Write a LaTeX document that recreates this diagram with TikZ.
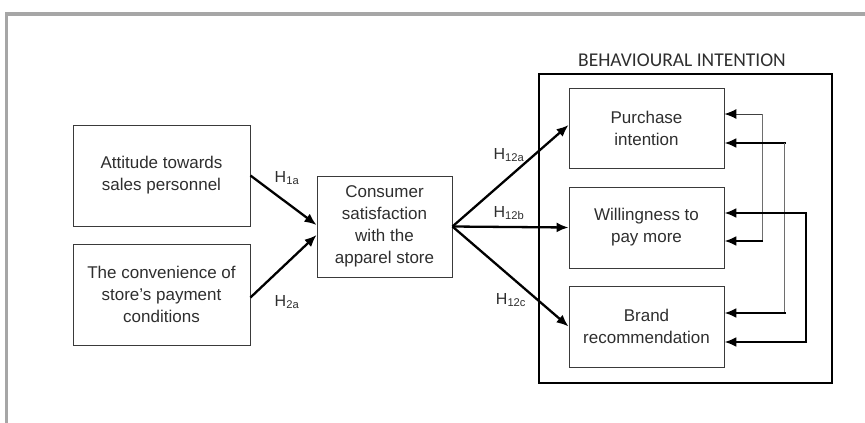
\documentclass[tikz,border=0pt]{standalone}
\usepackage{fontspec}
\setmainfont{Liberation Sans}
\newfontfamily\calib{Carlito}
\usetikzlibrary{arrows.meta,calc}
\definecolor{txt}{HTML}{2E2E2E}
\definecolor{boxln}{HTML}{3A3A3A}
\definecolor{frameln}{HTML}{A6A6A6}
\definecolor{thinln}{HTML}{6E6E6E}
\tikzset{
  concept/.style={draw=boxln, line width=0.9pt, inner sep=0pt, align=center,
    text=txt, font=\fontsize{17}{22}\selectfont},
  hlabel/.style={text=txt, font=\fontsize{16}{18}\selectfont, inner sep=0pt},
  tip/.style={-{Latex[length=12pt,width=10pt,black]}},
  boldln/.style={line width=2.3pt, black},
  fineln/.style={line width=1pt, thinln},
}
\begin{document}
\begin{tikzpicture}[x=1pt,y=-1pt]
\useasboundingbox (0,0) rectangle (865,423);
% frame
\draw[frameln, line width=3.5pt] (6.5,423) -- (6.5,14) -- (865,14);
% left concepts
\node[concept, minimum width=177pt, minimum height=101pt] (A) at (161.5,175.5) {Attitude towards\\sales personnel};
\node[concept, minimum width=177pt, minimum height=101pt] (B) at (161.5,294.5) {The convenience of\\store’s payment\\conditions};
\node[concept, minimum width=135pt, minimum height=101pt] (C) at (384.5,226.5) {Consumer\\satisfaction\\with the\\apparel store};
% behavioural intention
\node[draw=black, line width=1.4pt, minimum width=293pt, minimum height=309pt, inner sep=0pt] (BI) at (685.5,228.5) {};
\node[text=txt, font=\calib\fontsize{19.5}{22}\selectfont, inner sep=0pt] (BIl) at (682,60) {BEHAVIOURAL INTENTION};
\node[concept, minimum width=155pt, minimum height=80pt] (P) at (646.5,128) {Purchase\\intention};
\node[concept, minimum width=155pt, minimum height=81pt] (W) at (646.5,227.5) {Willingness to\\pay more};
\node[concept, minimum width=155pt, minimum height=81pt] (R) at (646.5,326.5) {Brand\\recommendation};
% hypotheses arrows
\draw[boldln, tip] (A.east) -- ([yshift=1.5pt]C.west);
\draw[boldln, tip] ([yshift=-3pt]B.east) -- ([yshift=-8.5pt]C.west);
\draw[boldln, tip] (C.east) -- ([yshift=3pt]P.west);
\draw[boldln, tip] (C.east) -- (W.west);
\draw[boldln, tip] (C.east) -- (R.west);
\node[hlabel] (h1) at (287,178) {H\textsubscript{1a}};
\node[hlabel] (h2) at (287,302) {H\textsubscript{2a}};
\node[hlabel] (h3) at (509,155) {H\textsubscript{12a}};
\node[hlabel] (h4) at (509,213) {H\textsubscript{12b}};
\node[hlabel] (h5) at (511,300) {H\textsubscript{12c}};
% feedback connectors
\coordinate (p1) at ([yshift=14pt]P.east);
\coordinate (p2) at ([yshift=-15pt]P.east);
\coordinate (w1) at ([yshift=14.5pt]W.east);
\coordinate (w2) at ([yshift=-13.5pt]W.east);
\coordinate (r1) at ([yshift=13.5pt]R.east);
\coordinate (r2) at ([yshift=-15.5pt]R.east);
\coordinate (k1) at (762,0);
\coordinate (k2) at (784,0);
\coordinate (k3) at (806,0);
\draw[fineln, draw=black!75, tip] ($(p1 -| k1)+(1,0)$) -- (p1);
\draw[fineln] (p1 -| k1) -- (w2 -| k1);
\draw[boldln, tip] ($(w2 -| k1)+(1,0)$) -- (w2);
\draw[boldln, tip] ($(p2 -| k2)+(2,0)$) -- (p2);
\draw[fineln] (p2 -| k2) -- (r1 -| k2);
\draw[boldln, tip] ($(r1 -| k2)+(2,0)$) -- (r1);
\draw[boldln, tip] ($(w1 -| k3)+(1,0)$) -- (w1);
\draw[boldln] (w1 -| k3) -- (r2 -| k3);
\draw[boldln, tip] ($(r2 -| k3)+(1,0)$) -- (r2);
\end{tikzpicture}
\end{document}
